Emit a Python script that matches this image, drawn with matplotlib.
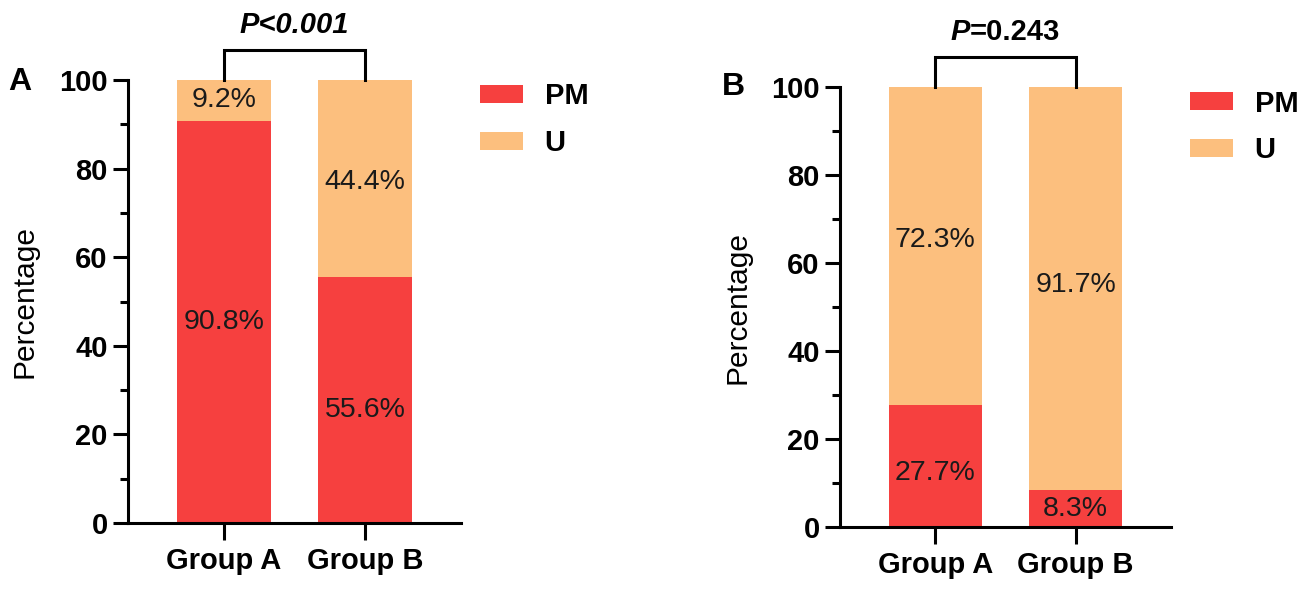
import matplotlib
matplotlib.use("Agg")
import matplotlib.pyplot as plt
from matplotlib.patches import Patch
from matplotlib.ticker import MultipleLocator

plt.rcParams['font.family'] = ['Liberation Sans', 'DejaVu Sans']

groups = ["Group A", "Group B"]
series_names = ["PM", "U"]
colors = ["#F6403F", "#FCBF7E"]

# Panel A
pm_a = [90.8, 55.6]
u_a = [9.2, 44.4]
p_a = "P<0.001"
# Panel B
pm_b = [27.7, 8.3]
u_b = [72.3, 91.7]
p_b_italic = "P"
p_b_rest = "=0.243"

# small vertical nudges of the value labels (layout only), per group: (PM, U)
nudge_a = [(0, 0), (-2.3, -0.8)]
nudge_b = [(-1.5, 1.3), (0, 0.8)]

W, H = 1311, 590
fig = plt.figure(figsize=(W / 100, H / 100), dpi=100)

axA = fig.add_axes([128 / W, 1 - 523 / H, 333 / W, 443 / H])
axB = fig.add_axes([840 / W, 1 - 527 / H, 331 / W, 440 / H])

LW = 2.2
TICK_FS = 21


def style_axis(ax):
    ax.set_ylim(0, 100)
    ax.set_xlim(-0.68, 1.68)
    for s in ["top", "right"]:
        ax.spines[s].set_visible(False)
    for s in ["left", "bottom"]:
        ax.spines[s].set_linewidth(LW)
    ax.yaxis.set_major_locator(MultipleLocator(20))
    ax.yaxis.set_minor_locator(MultipleLocator(10))
    ax.tick_params(axis="y", which="major", length=11, width=LW, labelsize=TICK_FS, pad=3.5)
    ax.tick_params(axis="y", which="minor", length=5.5, width=LW)
    ax.tick_params(axis="x", which="major", length=12, width=LW, labelsize=TICK_FS, pad=5)
    for lbl in ax.get_xticklabels() + ax.get_yticklabels():
        lbl.set_fontweight("bold")
    ax.set_ylabel("Percentage", fontsize=21.5)


def draw_panel(ax, pm, u, nudge):
    x = list(range(len(groups)))
    ax.bar(x, pm, width=0.667, color=colors[0], label=series_names[0])
    ax.bar(x, u, width=0.667, bottom=pm, color=colors[1], label=series_names[1])
    ax.set_xticks(x)
    ax.set_xticklabels(groups)
    for xi, a, b, (na, nb) in zip(x, pm, u, nudge):
        ax.text(xi, a / 2 + na, f"{a}%", ha="center", va="center", fontsize=20.5, color="#1a1a1a")
        ax.text(xi, a + b / 2 + nb, f"{b}%", ha="center", va="center", fontsize=20.5, color="#1a1a1a")
    # bracket
    ax.plot([0, 0, 1, 1], [100, 106.8, 106.8, 100], color="black", lw=LW,
            clip_on=False, solid_joinstyle="miter")
    style_axis(ax)


draw_panel(axA, pm_a, u_a, nudge_a)
draw_panel(axB, pm_b, u_b, nudge_b)

axA.yaxis.set_label_coords(-0.27, 0.5)
axB.yaxis.set_label_coords(-0.266, 0.5)

# p-values
axA.text(0.5, 110.7, p_a, ha="center", va="baseline", fontsize=21,
         fontweight="bold", fontstyle="italic", clip_on=False)

fig.canvas.draw()
r = fig.canvas.get_renderer()
tP = axB.text(0.5, 110.7, p_b_italic, ha="left", va="baseline", fontsize=21,
              fontweight="bold", fontstyle="italic", clip_on=False)
tR = axB.text(0.5, 110.7, p_b_rest, ha="left", va="baseline", fontsize=21,
              fontweight="bold", clip_on=False)
wP = tP.get_window_extent(r).width
wR = tR.get_window_extent(r).width
cx, cy = axB.transData.transform((0.5, 110.7))
inv = axB.transData.inverted()
x0 = inv.transform((cx - (wP + wR) / 2, cy))[0]
x1 = inv.transform((cx - (wP + wR) / 2 + wP, cy))[0]
tP.set_x(x0)
tR.set_x(x1)

# legends
handles = [Patch(facecolor=c, edgecolor="none", label=n) for c, n in zip(colors, series_names)]
for hx, hy in [(480, 82.5), (1190, 89.5)]:
    leg = fig.legend(handles=handles, loc="upper left",
                     bbox_to_anchor=(hx / W, 1 - hy / H), bbox_transform=fig.transFigure,
                     frameon=False, fontsize=21, handlelength=1.47, handleheight=0.58,
                     handletextpad=0.75, labelspacing=0.64, borderpad=0, borderaxespad=0)
    for t in leg.get_texts():
        t.set_fontweight("bold")

# panel letters
fig.text(8 / W, 1 - 90 / H, "A", fontsize=23, fontweight="bold", va="baseline")
fig.text(722 / W, 1 - 95 / H, "B", fontsize=23, fontweight="bold", va="baseline")

fig.savefig("out.png", dpi=100)
